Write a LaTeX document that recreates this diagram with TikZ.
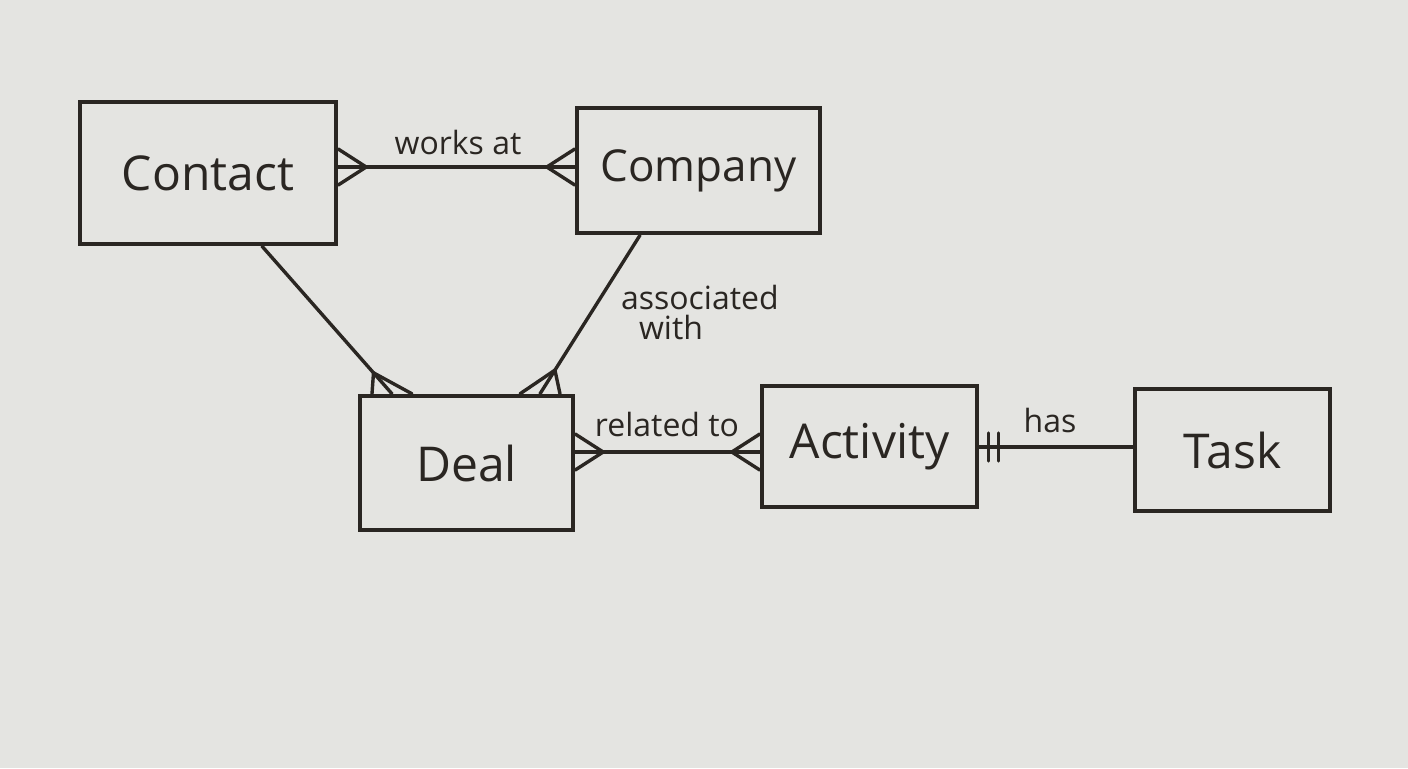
\documentclass[tikz,border=0pt]{standalone}
\usepackage{fontspec}
\setmainfont{Open Sans}
\usetikzlibrary{calc}
\definecolor{board}{HTML}{E4E4E1}
\definecolor{ink}{HTML}{2A2622}
\tikzset{
  ent/.style={draw=ink,line width=2.2pt,rectangle,inner sep=0pt},
  lnk/.style={draw=ink,line width=1.7pt,line cap=round},
  lbl/.style={text=ink,font=\fontsize{16}{18}\selectfont},
  ename/.style={text=ink,font=\fontsize{24}{28}\selectfont}
}
\newcommand{\crowfoot}[2]{% end point #1, toward #2
  \draw[lnk] ($(#1)!14pt!(#2)$) -- ($(#1)!9pt!90:(#2)$);
  \draw[lnk] ($(#1)!14pt!(#2)$) -- ($(#1)!9pt!-90:(#2)$);
}
\newcommand{\crowtop}[2]{% foot on a horizontal edge
  \draw[lnk] ($(#1)!14pt!(#2)$) -- ($(#1)+(-20,0)$);
  \draw[lnk] ($(#1)!14pt!(#2)$) -- ($(#1)+(20,0)$);
}
\begin{document}
\begin{tikzpicture}[x=0.5pt,y=-0.5pt]
\fill[board] (0,0) rectangle (1408,768);
\useasboundingbox (0,0) rectangle (1408,768);
\node[ent,minimum width=128pt,minimum height=71pt] (contact) at (208,173) {};
\node[ename] at (contact) {Contact};
\node[ent,minimum width=121.5pt,minimum height=62.5pt] (company) at (698.5,170.5) {};
\node[ename,font=\fontsize{22}{26}\selectfont] at (company) {Company};
\node[ent,minimum width=106.5pt,minimum height=67pt] (deal) at (466.5,463) {};
\node[ename] at (deal) {Deal};
\node[ent,minimum width=107.5pt,minimum height=60.5pt] (activity) at (869.5,446.5) {};
\node[ename] at (activity) {Activity};
\node[ent,minimum width=97.5pt,minimum height=61pt] (task) at (1232.5,450) {};
\node[ename] at (task) {Task};
% anchor points
\coordinate (c1) at (contact.east |- 0,167);
\coordinate (co1) at (company.west |- 0,167);
\coordinate (c2) at (contact.south -| 262,0);
\coordinate (d2) at (deal.north -| 392,0);
\coordinate (co3) at (company.south -| 640,0);
\coordinate (d3) at (deal.north -| 540,0);
\coordinate (d4) at (deal.east |- 0,452);
\coordinate (a4) at (activity.west |- 0,452);
\coordinate (a5) at (activity.east |- 0,447);
\coordinate (t5) at (task.west |- 0,447);
\draw[lnk] (c1) -- (co1);
\crowfoot{c1}{co1}\crowfoot{co1}{c1}
\draw[lnk] (c2) -- (d2);
\crowtop{d2}{c2}
\draw[lnk] (co3) -- (d3);
\crowtop{d3}{co3}
\draw[lnk] (d4) -- (a4);
\crowfoot{d4}{a4}\crowfoot{a4}{d4}
\draw[lnk] (a5) -- (t5);
\draw[lnk] ($(a5)+(9,-14)$) -- ($(a5)+(9,14)$);
\draw[lnk] ($(a5)+(19,-14)$) -- ($(a5)+(19,14)$);
\node[lbl] (l1) at (458,142) {works at};
\node[lbl,align=left,anchor=west] (l2) at (614,312) {associated\\[-3pt]\hspace*{9pt}with};
\node[lbl] (l3) at (667,424) {related to};
\node[lbl] (l4) at (1050,420) {has};
\end{tikzpicture}
\end{document}
